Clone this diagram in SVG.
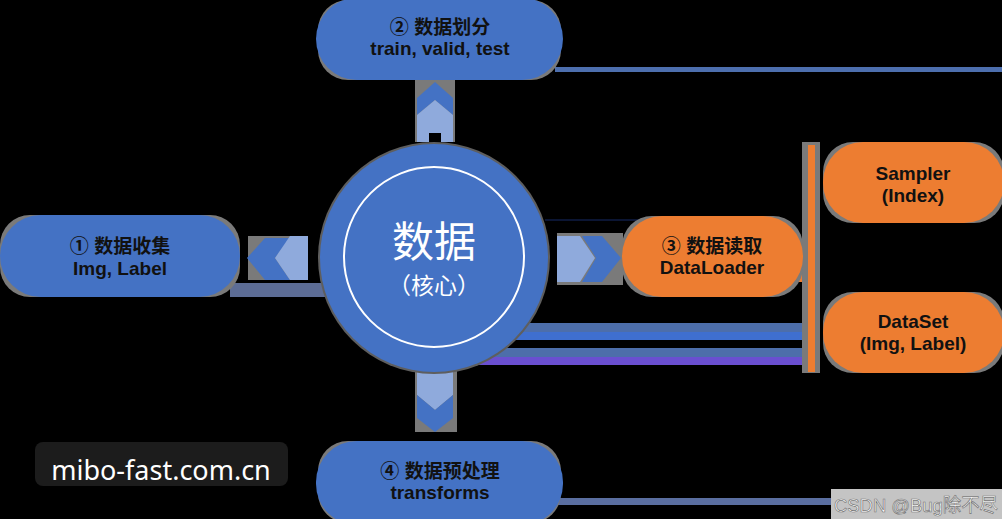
<svg xmlns="http://www.w3.org/2000/svg" width="1002" height="519" viewBox="0 0 1002 519">
<style>
.blue{fill:#4472C4}
.orange{fill:#ED7D31}
.light{fill:#8FAADC}
.halo{fill:#7a7a7a}
.lbl{font-family:"Liberation Sans","Noto Sans CJK SC",sans-serif;font-weight:bold;font-size:19px;fill:#111;text-anchor:middle}
.core{font-family:"Noto Sans CJK SC","Liberation Sans",sans-serif;fill:#fff;text-anchor:middle}
</style>
<rect x="0" y="0" width="1002" height="519" fill="#000"/>
<g id="connectors">
  <rect x="555" y="67" width="447" height="5" fill="#4d6fae"/>
  <rect x="545" y="219" width="95" height="2" fill="#0b1533"/>
  <rect x="230" y="283" width="95" height="14" fill="#5d6d96"/>
  <rect x="440" y="323" width="368" height="9" fill="#4d6eaa"/>
  <rect x="440" y="332" width="368" height="8" fill="#3f6fcf"/>
  <rect x="440" y="348" width="368" height="9" fill="#4d6eaa"/>
  <rect x="440" y="357" width="368" height="8" fill="#6a4fd0"/>
  <rect x="555" y="498" width="280" height="7" fill="#5a6ea0"/>
  <rect x="797" y="272" width="12" height="10" class="orange"/>
  <rect x="802" y="142" width="18" height="231" class="halo"/>
  <rect x="808" y="145" width="7" height="227" class="orange"/>
  <g id="arrow-up">
    <rect x="415" y="80" width="40" height="62" class="halo"/>
    <polygon class="blue" points="417,98 435,82 453,98 453,115 435,100 417,115"/>
    <polygon class="light" points="417,115 435,100 453,115 453,142 417,142"/>
    <rect x="429" y="133" width="12" height="9" fill="#000"/>
  </g>
  <g id="arrow-left">
    <rect x="248" y="236" width="60" height="44" class="halo"/>
    <polygon class="blue" points="247,258 265,238 290,238 275,258 290,280 265,280"/>
    <polygon class="light" points="275,258 290,236 308,236 308,280 290,280"/>
  </g>
  <g id="arrow-right">
    <rect x="557" y="233" width="66" height="52" class="halo"/>
    <polygon class="light" points="557,236 580,236 595,258 580,282 557,282"/>
    <polygon class="blue" points="582,236 602,236 621,258 602,282 582,282 596,258"/>
  </g>
  <g id="arrow-down">
    <rect x="415" y="370" width="42" height="62" class="halo"/>
    <polygon class="light" points="417,370 453,370 453,395 435,410 417,395"/>
    <polygon class="blue" points="417,395 435,410 453,395 453,418 435,432 417,418"/>
  </g>
</g>
<g id="node-core">
  <circle cx="434" cy="258" r="116" fill="#5e5e5e"/>
  <circle cx="434" cy="258" r="114" class="blue"/>
  <circle cx="434" cy="257" r="90" fill="none" stroke="#fff" stroke-width="2"/>
  <text x="434" y="257" class="core" font-size="42">数据</text>
  <text x="434" y="294" class="core" font-size="23">（核心）</text>
</g>
<g id="node-split">
  <rect x="318" y="0" width="243" height="80" rx="30" class="halo"/>
  <rect x="316" y="-2" width="247" height="82" rx="41" class="blue"/>
  <text x="440" y="34" class="lbl">② 数据划分</text>
  <text x="440" y="55" class="lbl">train, valid, test</text>
</g>
<g id="node-collect">
  <rect x="0" y="215" width="240" height="82" rx="30" class="halo"/>
  <rect x="0" y="215" width="240" height="82" rx="41" class="blue"/>
  <text x="120" y="253" class="lbl">① 数据收集</text>
  <text x="120" y="275" class="lbl">Img, Label</text>
</g>
<g id="node-loader">
  <rect x="622" y="216" width="181" height="81" rx="30" class="halo"/>
  <rect x="622" y="216" width="181" height="81" rx="40" class="orange"/>
  <text x="712" y="253" class="lbl">③ 数据读取</text>
  <text x="712" y="274" class="lbl">DataLoader</text>
</g>
<g id="node-sampler">
  <rect x="823" y="142" width="181" height="81" rx="30" class="halo"/>
  <rect x="823" y="142" width="181" height="81" rx="40" class="orange"/>
  <text x="913" y="180" class="lbl">Sampler</text>
  <text x="913" y="202" class="lbl">(Index)</text>
</g>
<g id="node-dataset">
  <rect x="823" y="292" width="181" height="81" rx="30" class="halo"/>
  <rect x="823" y="292" width="181" height="81" rx="40" class="orange"/>
  <text x="913" y="328" class="lbl">DataSet</text>
  <text x="913" y="350" class="lbl">(Img, Label)</text>
</g>
<g id="node-preprocess">
  <rect x="318" y="441" width="243" height="82" rx="30" class="halo"/>
  <rect x="316" y="441" width="247" height="84" rx="41" class="blue"/>
  <text x="440" y="478" class="lbl">④ 数据预处理</text>
  <text x="440" y="499" class="lbl">transforms</text>
</g>
<g id="watermark-mibo">
  <rect x="35" y="442" width="253" height="44" rx="8" fill="#1c1c1c"/>
  <text x="161" y="480" font-family="'Noto Sans','Open Sans',sans-serif" font-size="27" fill="#fff" text-anchor="middle">mibo-fast.com.cn</text>
</g>
<g id="watermark-csdn">
  <rect x="831" y="489" width="171" height="30" fill="#c4c4c4"/>
  <text x="916" y="512" font-family="'Liberation Sans','Noto Sans CJK SC',sans-serif" font-size="19" fill="#fff" stroke="#777" stroke-width="0.7" text-anchor="middle" textLength="164" lengthAdjust="spacingAndGlyphs">CSDN @Bug除不尽</text>
</g>
</svg>
